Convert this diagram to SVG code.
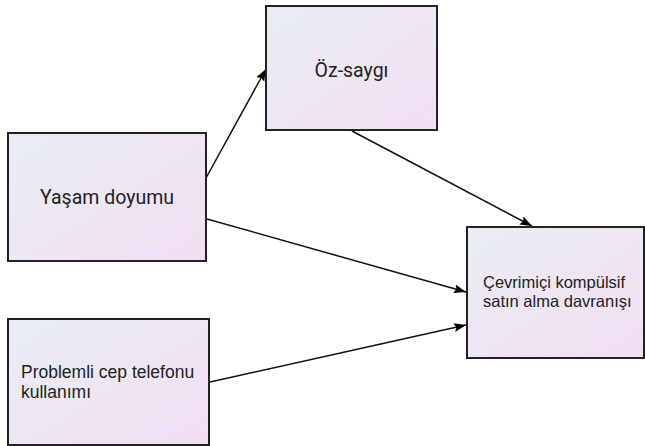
<svg xmlns="http://www.w3.org/2000/svg" width="645" height="446" viewBox="0 0 645 446">
<defs>
<linearGradient id="g" x1="0" y1="0" x2="1" y2="1">
<stop offset="0" stop-color="#e8eef3"/>
<stop offset="1" stop-color="#f2def3"/>
</linearGradient>
<marker id="ah" viewBox="0 0 12 10" refX="12" refY="5" markerWidth="12" markerHeight="10" markerUnits="userSpaceOnUse" orient="auto">
<path d="M0,0.5 L12,5 L0,9.5 L2,5 z" fill="#000"/>
</marker>
<style>
.box{fill:url(#g);stroke:#222;stroke-width:2}
.t1{font-family:Roboto,"Liberation Sans",sans-serif;font-size:19.5px;fill:#222}
.t2{font-family:"Liberation Sans",Arial,sans-serif;font-size:17.5px;fill:#222}
.t3{font-family:"Liberation Sans",Arial,sans-serif;font-size:16.5px;fill:#222}
.c{stroke:#111;stroke-width:1.5;fill:none;marker-end:url(#ah)}
</style>
</defs>
<rect width="645" height="446" fill="#fff"/>
<g id="connectors">
<line class="c" x1="206" y1="178" x2="266" y2="69"/>
<line class="c" x1="352" y1="131" x2="532" y2="226"/>
<line class="c" x1="207" y1="219" x2="466" y2="292"/>
<line class="c" x1="210" y1="382" x2="466" y2="325"/>
</g>
<g id="ozsaygi">
<rect class="box" x="266" y="6" width="171" height="124"/>
<text class="t1" x="351.5" y="77" text-anchor="middle">Öz-saygı</text>
</g>
<g id="yasam">
<rect class="box" x="8" y="133" width="198" height="128"/>
<text class="t1" x="107" y="204" text-anchor="middle">Yaşam doyumu</text>
</g>
<g id="problemli">
<rect class="box" x="8" y="319" width="201" height="126"/>
<text class="t2" x="21" y="378">Problemli cep telefonu</text>
<text class="t2" x="21" y="398">kullanımı</text>
</g>
<g id="cevrimici">
<rect class="box" x="467" y="227" width="177" height="131"/>
<text class="t3" x="483" y="288">Çevrimiçi kompülsif</text>
<text class="t3" x="483" y="307">satın alma davranışı</text>
</g>
</svg>
